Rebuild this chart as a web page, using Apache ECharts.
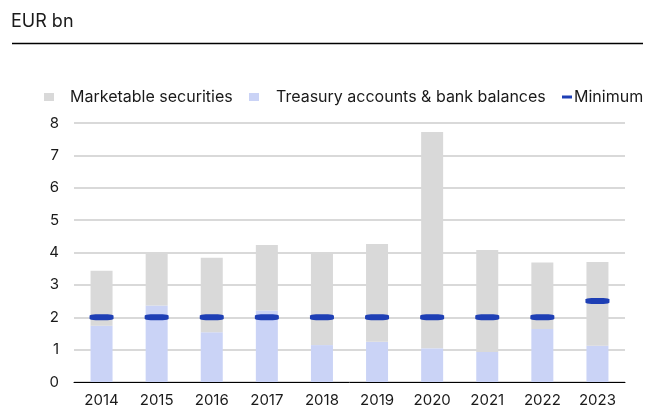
<!DOCTYPE html>
<html>
<head>
<meta charset="utf-8">
<script src="https://cdn.jsdelivr.net/npm/echarts@6/dist/echarts.min.js"></script>
<style>
html,body{margin:0;padding:0;background:#fff;}
#chart{width:661px;height:411px;}
</style>
</head>
<body>
<div id="chart"></div>
<script>
const years = ['2014','2015','2016','2017','2018','2019','2020','2021','2022','2023'];
const treasury = [1.74, 2.36, 1.54, 2.21, 1.14, 1.24, 1.04, 0.93, 1.64, 1.12];
const marketable = [1.70, 1.60, 2.30, 2.02, 2.85, 3.02, 6.68, 3.15, 2.05, 2.59];
const minimum = [2, 2, 2, 2, 2, 2, 2, 2, 2, 2.5];
const yTicks = [0, 8, 1];

const FONT = 'Inter';
const chart = echarts.init(document.getElementById('chart'));
const legendBase = {
  top: 84, itemWidth: 10, itemHeight: 8, itemGap: 0,
  textStyle: { fontFamily: FONT, fontSize: 16, color: '#1a1a1a' },
  selectedMode: false
};
chart.setOption({
  animation: false,
  title: {
    text: 'EUR bn', left: 6, top: 8,
    textStyle: { fontFamily: FONT, fontSize: 18, fontWeight: 'normal', color: '#1a1a1a' }
  },
  graphic: [{
    type: 'line', shape: { x1: 12, y1: 43.5, x2: 643, y2: 43.5 },
    style: { stroke: '#000', lineWidth: 1.5 }
  }],
  legend: [
    Object.assign({}, legendBase, { left: 39, data: [{ name: 'Marketable securities', icon: 'rect', textStyle: { padding: [0, 0, 0, 11] } }] }),
    Object.assign({}, legendBase, { left: 244, data: [{ name: 'Treasury accounts & bank balances', icon: 'rect', textStyle: { padding: [0, 0, 0, 12] } }] }),
    Object.assign({}, legendBase, { left: 557, data: [{ name: 'Minimum', icon: 'path://M0,0h10v3h-10z', textStyle: { padding: [0, 0, 0, -3] } }] })
  ],
  grid: { left: 74, right: 36, top: 123, bottom: 29 },
  xAxis: {
    type: 'category', data: years,
    axisLine: { lineStyle: { color: '#000', width: 1 } },
    axisTick: { show: false },
    axisLabel: { fontFamily: FONT, fontSize: 15, color: '#1a1a1a', margin: 11 }
  },
  yAxis: {
    type: 'value', min: yTicks[0], max: yTicks[1], interval: yTicks[2],
    axisLine: { show: false }, axisTick: { show: false },
    splitLine: { lineStyle: { color: '#d9d9d9', width: 2 } },
    axisLabel: { fontFamily: FONT, fontSize: 15, color: '#1a1a1a', margin: 15 }
  },
  series: [
    {
      name: 'Treasury accounts & bank balances', type: 'bar', stack: 'liq',
      data: treasury, barWidth: 22, itemStyle: { color: '#cad3f6' }
    },
    {
      name: 'Marketable securities', type: 'bar', stack: 'liq',
      data: marketable, barWidth: 22, itemStyle: { color: '#d9d9d9' }
    },
    {
      name: 'Minimum', type: 'scatter', data: minimum, z: 5,
      symbol: 'roundRect', symbolSize: [24, 6],
      itemStyle: { color: '#1e3fb5', opacity: 1 }
    }
  ]
});
</script>
</body>
</html>
